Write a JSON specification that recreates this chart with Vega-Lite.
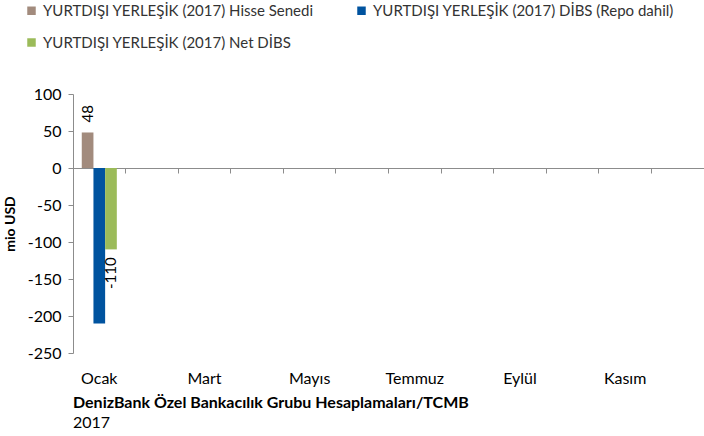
{
  "$schema": "https://vega.github.io/schema/vega-lite/v6.json",
  "width": 631,
  "height": 259,
  "autosize": {"type": "none"},
  "padding": {"left": 73, "top": 94, "right": 0, "bottom": 83},
  "config": {
    "font": "Lato",
    "locale": {"number": {"decimal": ".", "thousands": ",", "grouping": [3], "currency": ["$", ""], "minus": "-"}},
    "view": {"stroke": null},
    "axis": {"grid": false, "domainColor": "#8c8c8c", "tickColor": "#8c8c8c", "labelColor": "#000000", "labelFont": "Lato", "labelFontSize": 16},
    "axisY": {"labelOverlap": false}
  },
  "data": {
    "values": [
      {"ay": "Ocak", "seri": "YURTDIŞI YERLEŞİK (2017) Hisse Senedi", "deger": 48},
      {"ay": "Ocak", "seri": "YURTDIŞI YERLEŞİK (2017) DİBS (Repo dahil)", "deger": -210},
      {"ay": "Ocak", "seri": "YURTDIŞI YERLEŞİK (2017) Net DİBS", "deger": -110}
    ]
  },
  "title": {
    "text": "DenizBank Özel Bankacılık Grubu Hesaplamaları/TCMB",
    "subtitle": "2017",
    "orient": "bottom",
    "anchor": "start",
    "frame": "group",
    "font": "Lato",
    "fontSize": 16,
    "fontWeight": "bold",
    "color": "#000000",
    "subtitleFont": "Lato",
    "subtitleFontSize": 16,
    "subtitleColor": "#000000",
    "subtitlePadding": 4,
    "offset": 9
  },
  "resolve": {"axis": {"x": "independent"}},
  "layer": [
    {
      "mark": {"type": "bar"},
      "encoding": {
        "x": {
          "field": "ay", "type": "nominal",
          "scale": {"domain": ["Ocak", "Şubat", "Mart", "Nisan", "Mayıs", "Haziran", "Temmuz", "Ağustos", "Eylül", "Ekim", "Kasım", "Aralık"], "paddingInner": 0, "paddingOuter": 0},
          "axis": {"orient": "bottom", "domain": false, "ticks": false, "labelPadding": 17, "labelAngle": 0, "values": ["Ocak", "Mart", "Mayıs", "Temmuz", "Eylül", "Kasım"], "title": null}
        },
        "xOffset": {
          "field": "seri", "type": "nominal",
          "scale": {"domain": ["YURTDIŞI YERLEŞİK (2017) Hisse Senedi", "YURTDIŞI YERLEŞİK (2017) DİBS (Repo dahil)", "YURTDIŞI YERLEŞİK (2017) Net DİBS"], "paddingInner": 0, "paddingOuter": 0.75}
        },
        "y": {
          "field": "deger", "type": "quantitative",
          "scale": {"domain": [-250, 100], "nice": false},
          "axis": {"values": [-250, -200, -150, -100, -50, 0, 50, 100], "labelOverlap": false, "tickSize": 5, "labelPadding": 7, "title": "mio USD", "titleFont": "Lato", "titleFontSize": 14, "titleFontWeight": "bold", "titleColor": "#000000", "titlePadding": 10}
        },
        "color": {
          "field": "seri", "type": "nominal",
          "scale": {"domain": ["YURTDIŞI YERLEŞİK (2017) Hisse Senedi", "YURTDIŞI YERLEŞİK (2017) DİBS (Repo dahil)", "YURTDIŞI YERLEŞİK (2017) Net DİBS"], "range": ["#A28B7D", "#00539F", "#9BBB59"]},
          "legend": {"orient": "none", "legendX": -49, "legendY": -91, "direction": "horizontal", "columns": 2, "title": null, "symbolType": "square", "symbolSize": 72, "symbolStrokeWidth": 0, "labelFont": "Lato", "labelFontSize": 15, "labelColor": "#333333", "labelLimit": 0, "columnPadding": 40, "rowPadding": 16, "labelOffset": 4}
        }
      }
    },
    {
      "transform": [{"filter": "datum.deger >= 0"}],
      "mark": {"type": "text", "angle": 270, "align": "left", "baseline": "middle", "dx": 10, "fontSize": 15, "font": "Lato", "color": "#000000"},
      "encoding": {
        "x": {
          "field": "ay", "type": "nominal",
          "axis": {"orient": "bottom", "offset": -185, "labels": false, "ticks": true, "tickSize": 5, "bandPosition": 0, "domain": true, "title": null}
        },
        "xOffset": {"field": "seri", "type": "nominal"},
        "y": {
          "field": "deger", "type": "quantitative",
          "axis": {"values": [-250, -200, -150, -100, -50, 0, 50, 100], "labelOverlap": false, "tickSize": 5, "labelPadding": 7, "title": "mio USD", "titleFont": "Lato", "titleFontSize": 14, "titleFontWeight": "bold", "titleColor": "#000000", "titlePadding": 10}
        },
        "text": {"field": "deger", "type": "quantitative"}
      }
    },
    {
      "transform": [{"filter": "datum.seri == 'YURTDIŞI YERLEŞİK (2017) Net DİBS'"}],
      "mark": {"type": "text", "angle": 270, "align": "right", "baseline": "middle", "dx": -8, "fontSize": 15, "font": "Lato", "color": "#000000"},
      "encoding": {
        "x": {"field": "ay", "type": "nominal", "axis": null},
        "xOffset": {"field": "seri", "type": "nominal"},
        "y": {
          "field": "deger", "type": "quantitative",
          "axis": {"values": [-250, -200, -150, -100, -50, 0, 50, 100], "labelOverlap": false, "tickSize": 5, "labelPadding": 7, "title": "mio USD", "titleFont": "Lato", "titleFontSize": 14, "titleFontWeight": "bold", "titleColor": "#000000", "titlePadding": 10}
        },
        "text": {"field": "deger", "type": "quantitative"}
      }
    }
  ]
}
